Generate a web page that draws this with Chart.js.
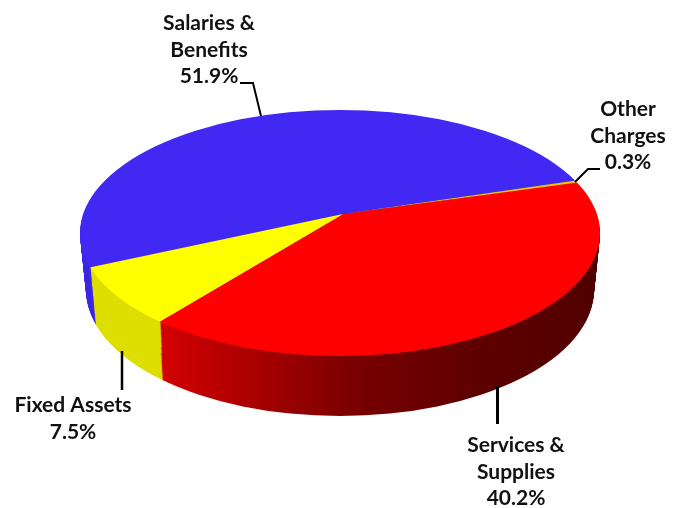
<!DOCTYPE html>
<html><head><meta charset="utf-8">
<script src="https://cdn.jsdelivr.net/npm/chart.js@4"></script>
<style>html,body{margin:0;padding:0;background:#fff}canvas{display:block}</style>
</head><body><canvas id="c" width="679" height="508"></canvas>
<script>
const categories = ["Salaries & Benefits", "Other Charges", "Services & Supplies", "Fixed Assets"];
const shares = [51.9, 0.3, 40.2, 7.5];
const topColors = ["#4128F2", "#F2C400", "#FF0000", "#FFFF00"];
const sideColors = ["#3C28E4", "#D8B000", null, "#DEDE00"];
const labelLines = [["Salaries &", "Benefits"], ["Other", "Charges"], ["Services &", "Supplies"], ["Fixed Assets"]];
const startAngle = 246.3;

const FONT = '700 21px Lato';
const labelPos = [{x:209,y:30},{x:628,y:116},{x:516,y:452},{x:73,y:412}];
const leaders = [
  {w:2,   pts:[[240,83],[253,83],[261,116]]},
  {w:2,   pts:[[600,169],[588,169],[575,182]]},
  {w:3,   pts:[[497.5,386],[497.5,424]]},
  {w:2.5, pts:[[122,351],[122,390]]}
];
const APEX = {x:343, y:214};
const TOP = {cx:340, cy:233, rx:260, ry:123};
const BASE = {cx:340, cy:290, rx:254, ry:126};
const RATIO = 0.48, ZOOM = 1.3;

const pie3d = {
  id:'pie3d',
  beforeDatasetsDraw(chart){
    const ctx = chart.ctx, arcs = chart.getDatasetMeta(0).data;
    const ox = arcs[0].x, oy = arcs[0].y;
    const depth = BASE.cy - TOP.cy;
    const layer = (t, isTop) => {
      const cy = TOP.cy + (BASE.cy-TOP.cy)*t, cx = TOP.cx + (BASE.cx-TOP.cx)*t;
      const rx = TOP.rx + (BASE.rx-TOP.rx)*t, ry = TOP.ry + (BASE.ry-TOP.ry)*t;
      const sx = ZOOM*rx/TOP.rx, sy = ZOOM*RATIO;
      ctx.save();
      ctx.beginPath(); ctx.ellipse(cx,cy,rx,ry,0,0,Math.PI*2); ctx.clip();
      ctx.translate(APEX.x, APEX.y + depth*t); ctx.scale(sx,sy); ctx.translate(-ox,-oy);
      const toLocal = X => ox + (X-APEX.x)/sx;
      arcs.forEach((a,i) => {
        const saved = a.options;
        let fill = topColors[i];
        if(!isTop){
          fill = sideColors[i];
          if(!fill){
            const g = ctx.createLinearGradient(toLocal(160),0,toLocal(600),0);
            g.addColorStop(0,'#D40000'); g.addColorStop(0.18,'#B00000');
            g.addColorStop(0.45,'#780000'); g.addColorStop(0.7,'#600000'); g.addColorStop(1,'#500000');
            fill = g;
          }
        }
        a.options = Object.assign({}, saved, {backgroundColor:fill, borderWidth:0});
        a.draw(ctx);
        a.options = saved;
      });
      ctx.restore();
    };
    for(let d=depth; d>=1; d--) layer(d/depth,false);
    layer(0,true);
    return false;
  },
  afterDraw(chart){
    const ctx = chart.ctx;
    ctx.save();
    ctx.strokeStyle='#000'; ctx.lineJoin='miter'; ctx.lineCap='butt';
    leaders.forEach(l=>{
      ctx.lineWidth=l.w; ctx.beginPath();
      l.pts.forEach((p,i)=> i?ctx.lineTo(p[0],p[1]):ctx.moveTo(p[0],p[1]));
      ctx.stroke();
    });
    ctx.fillStyle='#111'; ctx.font=FONT; ctx.textAlign='center'; ctx.textBaseline='alphabetic';
    labelLines.forEach((lines,i)=>{
      const all = lines.concat(shares[i].toFixed(1)+'%');
      all.forEach((s,k)=> ctx.fillText(s,labelPos[i].x,labelPos[i].y+k*26.5));
    });
    ctx.restore();
  }
};

new Chart(document.getElementById('c'),{
  type:'pie',
  data:{labels:categories,datasets:[{data:shares,backgroundColor:topColors,borderWidth:0}]},
  options:{
    responsive:false,animation:false,rotation:startAngle,
    layout:{padding:0},
    plugins:{legend:{display:false},tooltip:{enabled:false},title:{display:false}}
  },
  plugins:[pie3d]
});
</script></body></html>
